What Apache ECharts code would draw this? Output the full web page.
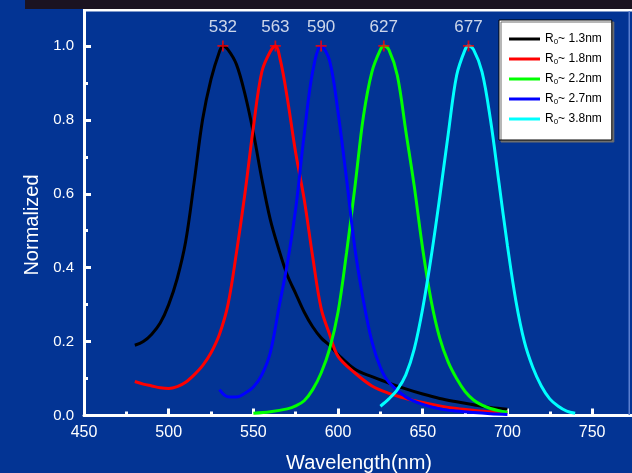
<!DOCTYPE html>
<html><head><meta charset="utf-8">
<script src="https://cdn.jsdelivr.net/npm/echarts@6/dist/echarts.min.js"></script>
<style>html,body{margin:0;padding:0;background:#033494;}#c{width:632px;height:473px;}</style>
</head><body><div id="c"></div>
<script>
// ---- data ----
const seriesNames = ['R0~ 1.3nm', 'R0~ 1.8nm', 'R0~ 2.2nm', 'R0~ 2.7nm', 'R0~ 3.8nm'];
const xTickLabels = [450, 500, 550, 600, 650, 700, 750];
const yTickLabels = [0.0, 0.2, 0.4, 0.6, 0.8, 1.0];

const wl13 = [480,485,490,495,500,505,510,515,520,525,530,532,535,540,545,550,555,560,565,570,575,580,585,590,595,600,610,620,630,640,650,660,670,680,690,700];
const val13 = [0.19,0.20,0.22,0.25,0.30,0.37,0.47,0.63,0.80,0.91,0.985,1.0,0.99,0.95,0.87,0.765,0.64,0.53,0.45,0.38,0.33,0.28,0.24,0.21,0.19,0.165,0.125,0.105,0.088,0.072,0.058,0.046,0.037,0.029,0.022,0.017];

const wl18 = [480,485,490,495,500,505,510,515,520,525,530,535,540,545,550,555,560,563,566,570,575,580,585,590,595,600,610,620,630,640,650,660,670,680,690,700];
const val18 = [0.092,0.085,0.08,0.075,0.073,0.078,0.09,0.11,0.135,0.17,0.22,0.30,0.44,0.60,0.78,0.93,0.985,1.0,0.96,0.86,0.71,0.585,0.43,0.29,0.22,0.16,0.115,0.08,0.06,0.046,0.035,0.026,0.019,0.014,0.01,0.008];

const wl22 = [550,560,570,575,580,585,590,595,600,605,610,615,620,625,627,630,635,640,645,650,655,660,665,670,675,680,685,690,695,700];
const val22 = [0.006,0.01,0.018,0.026,0.04,0.07,0.115,0.18,0.28,0.44,0.62,0.81,0.93,0.99,1.0,0.99,0.92,0.77,0.62,0.45,0.31,0.21,0.145,0.10,0.065,0.042,0.028,0.019,0.013,0.009];

const wl27 = [530,533,536,540,545,550,555,560,565,570,575,580,585,590,595,600,605,610,615,620,625,630,640,650,660,670,680,690,700];
const val27 = [0.07,0.055,0.05,0.05,0.06,0.077,0.11,0.17,0.29,0.41,0.56,0.76,0.93,1.0,0.96,0.82,0.64,0.45,0.31,0.20,0.13,0.09,0.05,0.03,0.018,0.012,0.008,0.005,0.003];

const wl38 = [625,630,635,640,645,650,655,660,665,670,675,677,680,685,690,695,700,705,710,715,720,725,730,735,740];
const val38 = [0.025,0.045,0.07,0.11,0.18,0.29,0.43,0.59,0.76,0.92,0.99,1.0,0.99,0.93,0.80,0.63,0.46,0.31,0.20,0.13,0.08,0.045,0.025,0.012,0.006];

const peakWl = [532, 563, 590, 627, 677];
const peakVal = [1.0, 1.0, 1.0, 1.0, 1.0];

// ---- chart ----
const colors = ['#000000', '#ff0000', '#00ff00', '#0000ff', '#00ffff'];
const allWl = [wl13, wl18, wl22, wl27, wl38];
const allVal = [val13, val18, val22, val27, val38];
const FONT = 'Liberation Sans, Arial, sans-serif';

const lineSeries = seriesNames.map((name, i) => ({
  name: name,
  type: 'line',
  data: allWl[i].map((w, j) => [w, allVal[i][j]]),
  showSymbol: false,
  smooth: 0.35,
  lineStyle: { color: colors[i], width: 3 },
  itemStyle: { color: colors[i] },
  silent: true,
  z: 2 + i * 0.01
}));

const peakSeries = {
  type: 'scatter',
  data: peakWl.map((w, i) => [w, peakVal[i]]),
  symbol: 'path://M4.2,0h1.6v4.2h4.2v1.6h-4.2v4.2h-1.6v-4.2h-4.2v-1.6h4.2z',
  symbolSize: 11,
  itemStyle: { color: '#ff0000' },
  label: {
    show: true, position: 'top', distance: 5,
    formatter: p => String(p.value[0]),
    color: '#ffffff', fontSize: 17, fontFamily: FONT
  },
  silent: true,
  z: 5
};

const chart = echarts.init(document.getElementById('c'), null, { renderer: 'canvas' });
chart.setOption({
  backgroundColor: '#033494',
  animation: false,
  grid: { left: 84, width: 592.8, top: -28, height: 443.5, containLabel: false, outerBoundsMode: 'none' },
  xAxis: {
    type: 'value', min: 450, max: 800, interval: 50,
    axisLine: { show: true, onZero: false, lineStyle: { color: '#ffffff', width: 3 } },
    axisTick: { show: true, inside: true, length: 7, lineStyle: { color: '#ffffff', width: 3 } },
    minorTick: { show: true, splitNumber: 2, length: 4, lineStyle: { color: '#ffffff', width: 3 } },
    splitLine: { show: false },
    axisLabel: {
      color: '#ffffff', fontSize: 16, fontFamily: FONT, margin: 9,
      formatter: v => (xTickLabels.indexOf(v) >= 0 ? String(v) : '')
    }
  },
  yAxis: {
    type: 'value', min: 0, max: 1.2, interval: 0.2,
    axisLine: { show: true, onZero: false, lineStyle: { color: '#ffffff', width: 3 } },
    axisTick: { show: true, inside: true, length: 7, lineStyle: { color: '#ffffff', width: 3 } },
    minorTick: { show: true, splitNumber: 2, length: 4, lineStyle: { color: '#ffffff', width: 3 } },
    splitLine: { show: false },
    axisLabel: {
      color: '#ffffff', fontSize: 15, fontFamily: FONT, margin: 10,
      formatter: v => {
        const m = yTickLabels.find(t => Math.abs(t - v) < 1e-6);
        return m === undefined ? '' : m.toFixed(1);
      }
    }
  },
  legend: {
    data: seriesNames,
    orient: 'vertical',
    left: 499, top: 20,
    padding: [12, 10, 14, 10],
    itemGap: 6,
    itemWidth: 31, itemHeight: 3,
    icon: 'rect',
    backgroundColor: '#ffffff',
    borderColor: '#000000', borderWidth: 1,
    shadowColor: 'rgba(110,110,110,1)', shadowOffsetX: 2, shadowOffsetY: 2, shadowBlur: 0,
    selectedMode: false,
    formatter: name => '{a|R}{s|0}{a|' + name.slice(2) + '}',
    textStyle: {
      color: '#000000', fontFamily: FONT, fontSize: 12, lineHeight: 14,
      rich: {
        a: { fontSize: 12, color: '#000000', fontFamily: FONT, lineHeight: 14 },
        s: { fontSize: 8, color: '#000000', fontFamily: FONT, lineHeight: 14, padding: [6, 0, 0, 0] }
      }
    }
  },
  graphic: [
    { type: 'rect', z: 100, shape: { x: 25, y: 0, width: 607, height: 9 }, style: { fill: '#1b1321' } },
    { type: 'rect', z: 100, shape: { x: 83, y: 9, width: 549, height: 2.5 }, style: { fill: '#ffffff' } },
    { type: 'rect', z: 100, shape: { x: 628.5, y: 11, width: 1.5, height: 404 }, style: { fill: '#5b7fcf' } },
    { type: 'text', z: 100, x: 359, y: 463, style: { text: 'Wavelength(nm)', fill: '#ffffff', font: '20px ' + FONT, textAlign: 'center', textVerticalAlign: 'middle' } },
    { type: 'text', z: 100, x: 32, y: 225, rotation: Math.PI / 2, style: { text: 'Normalized', fill: '#ffffff', font: '20px ' + FONT, textAlign: 'center', textVerticalAlign: 'middle' } }
  ],
  series: lineSeries.concat([peakSeries])
});
</script>
</body></html>
